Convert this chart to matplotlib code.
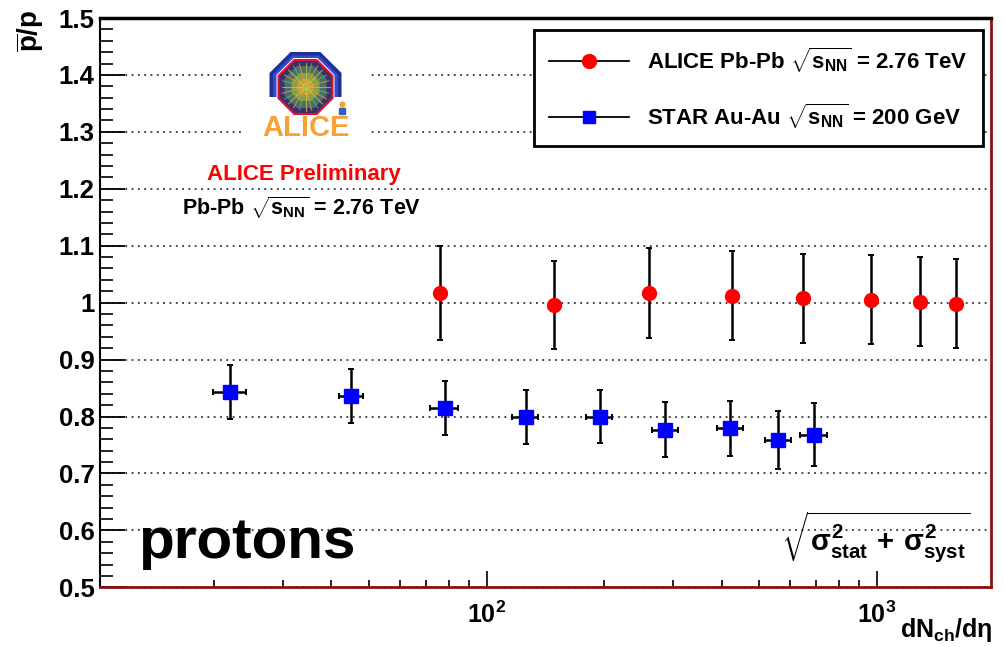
import numpy as np
import matplotlib
matplotlib.use('Agg')
import matplotlib.pyplot as plt
from matplotlib.lines import Line2D
from matplotlib.patches import Polygon
from matplotlib.ticker import MultipleLocator, LogLocator, NullFormatter

plt.rcParams['font.family'] = ['Liberation Sans', 'DejaVu Sans']
plt.rcParams['font.weight'] = 'bold'
plt.rcParams['mathtext.fontset'] = 'custom'
for k in ['rm', 'it', 'bf', 'sf']:
    plt.rcParams['mathtext.' + k] = 'Liberation Sans:bold'

# %% data
alice_x = [76, 149, 261, 426, 649, 966, 1294, 1601]
alice_y = [1.017, 0.996, 1.017, 1.012, 1.008, 1.005, 1.002, 0.998]
alice_yerr = [0.082, 0.078, 0.079, 0.078, 0.078, 0.078, 0.078, 0.078]

star_x = [22, 45, 78, 126, 195, 287, 421, 560, 691]
star_y = [0.843, 0.836, 0.815, 0.799, 0.800, 0.777, 0.779, 0.759, 0.768]
star_yerr = [0.048, 0.047, 0.047, 0.047, 0.047, 0.048, 0.048, 0.051, 0.055]
star_xerr = [2.1, 3.3, 6.5, 9.6, 15, 22, 32, 43, 54]

ytick_vals = [0.5, 0.6, 0.7, 0.8, 0.9, 1.0, 1.1, 1.2, 1.3, 1.4, 1.5]
ytick_labels = ['0.5', '0.6', '0.7', '0.8', '0.9', '1', '1.1', '1.2', '1.3', '1.4', '1.5']
xtick_vals = [100, 1000]
xtick_labels = [r'$10^{2}$', r'$10^{3}$']

legend_labels = [r'ALICE Pb-Pb $\sqrt{s_{NN}}$ = 2.76 TeV',
                 r'STAR Au-Au $\sqrt{s_{NN}}$ = 200 GeV']

W, H = 1004, 647


def fx(px):
    return px / W


def fy(py):
    return 1 - py / H


# %% main axes
fig = plt.figure(figsize=(W / 100, H / 100), dpi=100)
ax = fig.add_axes([fx(100), fy(587.3), (990.7 - 100) / W, (587.3 - 18) / H])
ax.set_xscale('log')
ax.set_xlim(10.2, 1960)
ax.set_ylim(0.5, 1.5)

ax.errorbar(alice_x, alice_y, yerr=alice_yerr, fmt='o', ms=10, mfc='red', mec='red',
            ecolor='black', elinewidth=1.8, capsize=2.5, capthick=1.4, zorder=4)
ax.errorbar(star_x, star_y, xerr=star_xerr, yerr=star_yerr, fmt='s', ms=9.5, mfc='blue', mec='blue',
            ecolor='black', elinewidth=1.8, capsize=2.5, capthick=1.4, zorder=4)

ax.set_yticks(ytick_vals)
ax.set_yticklabels(ytick_labels)
ax.yaxis.set_minor_locator(MultipleLocator(0.02))
ax.set_xticks(xtick_vals)
ax.set_xticklabels(xtick_labels)
ax.xaxis.set_minor_locator(LogLocator(base=10, subs=np.arange(2, 10)))
ax.xaxis.set_minor_formatter(NullFormatter())

ax.tick_params(axis='y', which='major', direction='in', length=18, width=1.3, labelsize=18.5, pad=4)
ax.tick_params(axis='y', which='minor', direction='in', length=9.5, width=1.2)
ax.tick_params(axis='x', which='major', direction='in', length=11.5, width=1.2, labelsize=18, pad=10)
ax.tick_params(axis='x', which='minor', direction='in', length=5, width=1.2)
ax.tick_params(top=False, right=False, which='both')

ax.yaxis.grid(True, which='major', linestyle=(0, (1, 2.5)), color='#333333', lw=1.3)
ax.set_axisbelow(True)

ax.spines['top'].set_linewidth(2.5)
ax.spines['left'].set_linewidth(1.5)
for s in ['right', 'bottom']:
    ax.spines[s].set_color('#8b1010')
    ax.spines[s].set_linewidth(2)

# legend
h1 = Line2D([], [], color='black', lw=1.3, marker='o', ms=10, mfc='red', mec='red')
h2 = Line2D([], [], color='black', lw=1.3, marker='s', ms=9, mfc='blue', mec='blue')
leg = ax.legend([h1, h2], legend_labels, loc='upper right', bbox_to_anchor=(0.9914, 0.979),
                fontsize=16, frameon=True, fancybox=False, edgecolor='black', framealpha=1,
                handlelength=3.6, handletextpad=0.8, labelspacing=1.2, borderpad=0.7,
                borderaxespad=0)
leg.get_frame().set_linewidth(2)

# %% texts
fig.text(fx(304), fy(180), 'ALICE Preliminary', color='red', fontsize=16, ha='center', va='baseline')
fig.text(fx(302), fy(215), r'Pb-Pb $\sqrt{s_{NN}}$ = 2.76 TeV', fontsize=15.5, ha='center', va='baseline')
fig.text(fx(138), fy(558), 'protons', fontsize=42, ha='left', va='baseline')
fig.text(fx(970), fy(565), r'$\sqrt{\sigma^{2}_{stat}\,+\,\sigma^{2}_{syst}}$', fontsize=21,
         ha='right', va='bottom')
fig.text(fx(993), fy(637), r'dN$_{ch}$/d$\eta$', fontsize=18, ha='right', va='baseline')
fig.text(fx(30), fy(10), r'$\overline{p}$/p', rotation=90, fontsize=20, ha='center', va='top')

# %% ALICE logo
la = fig.add_axes([fx(243), fy(145), (370 - 243) / W, (145 - 45) / H])
la.set_xlim(243, 370)
la.set_ylim(145, 45)
la.set_facecolor('white')
la.set_xticks([])
la.set_yticks([])
for s in la.spines.values():
    s.set_visible(False)


def octagon(cx, cy, hw):
    r = hw / np.cos(np.pi / 8)
    ang = np.pi / 8 + np.arange(8) * np.pi / 4
    return np.column_stack([cx + r * np.cos(ang), cy + r * np.sin(ang)])


cx, cy = 305.5, 87
la.add_patch(Polygon([(269.5, 97), (269.5, 73), (290.6, 52), (320.4, 52), (341.5, 73), (341.5, 97)],
                     closed=True, facecolor='#1f2f96', edgecolor='none'))
la.add_patch(Polygon([(273, 97), (273, 74.5), (292, 55.5), (319, 55.5), (338, 74.5), (338, 97)],
                     closed=True, facecolor='#2f4fc8', edgecolor='none'))
la.add_patch(Polygon(octagon(cx, cy, 29), closed=True, facecolor='white', edgecolor='none'))
la.add_patch(Polygon(octagon(cx, cy, 27), closed=True, facecolor='#3b2f6e', edgecolor='#e8102a', lw=1.5))
for hw, c in [(21, '#4f7a6a'), (14, '#9aa040'), (8, '#f09a30'), (3.5, '#ffd040')]:
    la.add_patch(Polygon(octagon(cx, cy, hw), closed=True, facecolor=c, edgecolor='none', alpha=0.85))
ray_colors = ['#c8d040', '#60c060', '#f0a030']
for i, a in enumerate(np.deg2rad(np.arange(0, 360, 15))):
    la.plot([cx, cx + 24 * np.cos(a)], [cy, cy + 24 * np.sin(a)], color=ray_colors[i % 3], lw=0.8, alpha=0.7)
la.text(306, 136, 'ALICE', color='#f7a234', fontsize=21, ha='center', va='baseline', fontweight='bold')
la.plot(342, 104, 'o', color='#f7a234', ms=3.5)
la.plot(342, 111, 's', color='#3060c0', ms=4)

plt.savefig('out.png', dpi=100)
